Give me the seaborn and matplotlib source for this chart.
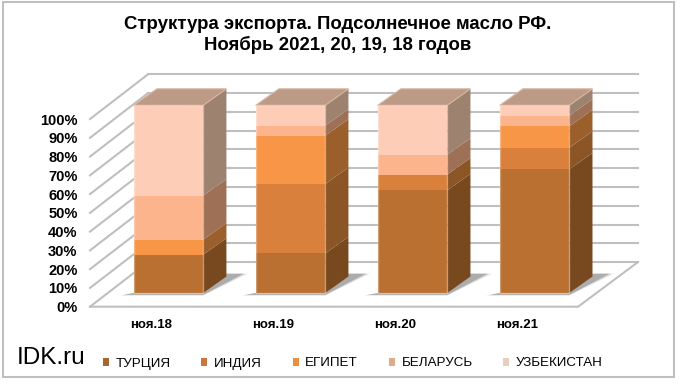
import matplotlib
matplotlib.use('Agg')
import matplotlib.pyplot as plt
import numpy as np
import pandas as pd
import seaborn as sns
from matplotlib.patches import Patch, Polygon, Rectangle

months = ['ноя.18', 'ноя.19', 'ноя.20', 'ноя.21']
countries = ['ТУРЦИЯ', 'ИНДИЯ', 'ЕГИПЕТ', 'БЕЛАРУСЬ', 'УЗБЕКИСТАН']
turkey = [20.4, 21.1, 54.7, 65.9]
india = [0, 37.0, 8.4, 11.5]
egypt = [8.0, 25.7, 0, 11.4]
belarus = [23.5, 5.4, 10.6, 5.7]
uzbekistan = [48.1, 10.8, 26.3, 5.5]
percent_labels = ['0%', '10%', '20%', '30%', '40%', '50%', '60%', '70%', '80%', '90%', '100%']

front_colors = ['#B97031', '#D9803D', '#F79646', '#FBB48C', '#FDCDB8']
side_colors = ['#78491E', '#8B5525', '#9A5F2B', '#9E7055', '#9E8270']
legend_colors = ['#A8672F', '#C9763A', '#EC8F42', '#E0AA88', '#EBCDBE']
top_color = '#BC9A85'
wall_color = '#BFBFBF'

plt.rcParams['font.family'] = ['Liberation Sans', 'DejaVu Sans']

df = pd.DataFrame({'month': months, 'ТУРЦИЯ': turkey, 'ИНДИЯ': india, 'ЕГИПЕТ': egypt,
                   'БЕЛАРУСЬ': belarus, 'УЗБЕКИСТАН': uzbekistan})

fig = plt.figure(figsize=(6.8, 3.85), dpi=100)
# axes spans the front floor corner to the far top of the back wall
ax = fig.add_axes([90 / 680, 1 - 306.7 / 385, 548 / 680, 232.7 / 385])
ax.patch.set_alpha(0)

width = 0.57
depth_x, depth_y = 0.19, 8.8
front_y, back_y = -7.3, 16.5
left_x, back_x, right_x, floor_right = -0.643, -0.168, 3.848, 3.357

# walls and floor
for i in range(11):
    v = i * 10
    ax.plot([left_x, back_x], [v + front_y, v + back_y], color=wall_color, lw=1.5, zorder=1, clip_on=False)
    ax.plot([back_x, right_x], [v + back_y, v + back_y], color=wall_color, lw=1.5, zorder=1, clip_on=False)
ax.plot([left_x, floor_right, right_x], [front_y, front_y, back_y], color=wall_color, lw=1.5, zorder=1, clip_on=False)

# shadows on the floor
for grow, alpha in [(0.04, 0.12), (0.02, 0.25), (0.0, 0.45)]:
    for x in range(len(months)):
        r = x + width / 2
        ax.add_patch(Polygon([(x - width / 2 - 0.08 - grow, -1 - grow * 10), (r, -1 - grow * 10),
                              (r + depth_x + 0.14 + grow, depth_y + 1.5), (r + depth_x, depth_y + 1.5), (r, 0),
                              (x - width / 2, 0)], color='#7F7F7F', alpha=alpha, lw=0, zorder=2))

bottom = np.zeros(len(months))
for name, front, side in zip(countries, front_colors, side_colors):
    values = df[name].to_numpy()
    sns.barplot(data=df, x='month', y=name, order=months, color=front, saturation=1, width=width,
                bottom=bottom, ax=ax, zorder=3, linewidth=0)
    for x, (b, v) in enumerate(zip(bottom, values)):
        r = x + width / 2
        ax.add_patch(Polygon([(r, b), (r + depth_x, b + depth_y), (r + depth_x, b + v + depth_y), (r, b + v)],
                             color=side, lw=0, zorder=3))
    bottom = bottom + values

for x, total in enumerate(bottom):
    l, r = x - width / 2, x + width / 2
    ax.add_patch(Polygon([(l, total), (r, total), (r + depth_x, total + depth_y), (l + depth_x, total + depth_y)],
                         facecolor=top_color, edgecolor='#D6B6A2', lw=0.8, zorder=3))
    # soft light bevel round the front face
    ax.add_patch(Rectangle((l, 0), width, total, fill=False, edgecolor='white', alpha=0.3, lw=1, zorder=4))

ax.set_xlim(left_x, right_x)
ax.set_ylim(front_y, 116.7)
ax.set_xticks(np.arange(len(months)) - 0.14, months, fontsize=9.5, fontweight='bold')
ax.set_yticks(np.arange(11) * 10 + front_y, percent_labels, fontsize=10.5, fontweight='bold')
ax.tick_params(length=0)
ax.tick_params(axis='x', pad=9)
ax.tick_params(axis='y', pad=9)
ax.set_xlabel('')
ax.set_ylabel('')
sns.despine(ax=ax, left=True, bottom=True)

fig.text(338 / 680, 1 - 35 / 385, 'Структура экспорта. Подсолнечное масло РФ.\nНоябрь 2021, 20, 19, 18 годов', ha='center',
         va='center', fontsize=13.4, fontweight='bold', linespacing=1.25)
fig.text(17 / 680, 1 - 358.5 / 385, 'IDK.ru', ha='left', va='center', fontsize=17.5)

handles = [Patch(facecolor=c, edgecolor='none') for c in legend_colors]
fig.legend(handles, countries, loc='center left', bbox_to_anchor=(103 / 680, 1 - 363.5 / 385), ncol=5, frameon=False,
           fontsize=9.6, handlelength=0.45, handleheight=0.5, handletextpad=0.5, columnspacing=2.3, borderpad=0, borderaxespad=0)

fig.add_artist(Rectangle((2.5 / 680, 1 - 377 / 385), 671.5 / 680, 375.5 / 385, transform=fig.transFigure, fill=False,
                         edgecolor='#BFBFBF', lw=1.5))

fig.savefig('out.png', dpi=100)
